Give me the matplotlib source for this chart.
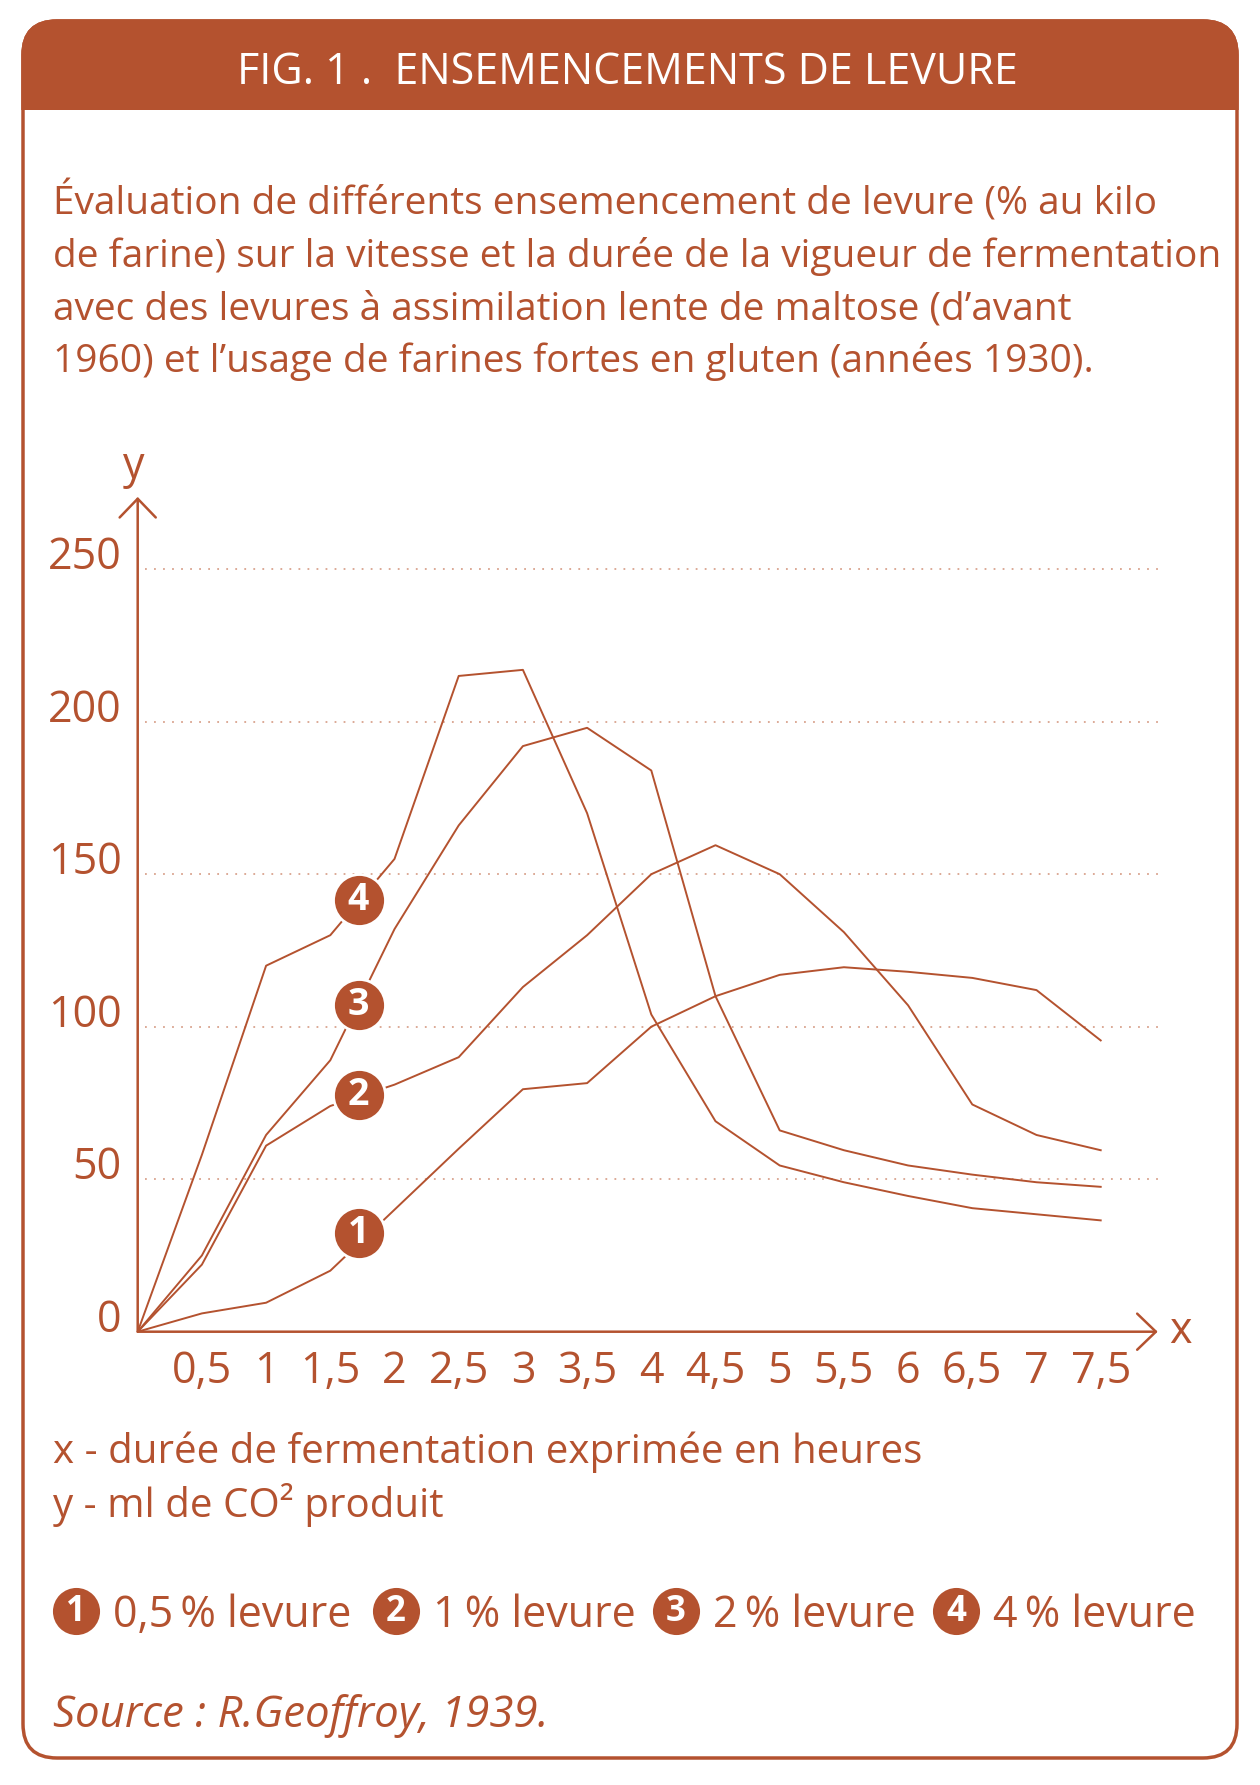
import matplotlib.pyplot as plt
from matplotlib.patches import FancyBboxPatch, Rectangle, ArrowStyle

plt.rcParams['font.family'] = ['Open Sans', 'DejaVu Sans']

# fermentation time (hours)
hours = [0, 0.5, 1, 1.5, 2, 2.5, 3, 3.5, 4, 4.5, 5, 5.5, 6, 6.5, 7, 7.5]
# ml of CO2 for each yeast dose
co2_05 = [0, 6, 9.5, 20, 40, 60, 79.5, 81.5, 100, 110, 117, 119.5, 118, 116, 112, 95.5]
co2_1 = [0, 22, 61, 74, 81, 90, 113, 130, 150, 159.5, 150, 131, 107, 74.5, 64.5, 59.5]
co2_2 = [0, 25, 64.5, 89, 132, 166, 192, 198, 184, 110, 66, 59.5, 54.5, 51.5, 49, 47.5]
co2_4 = [0, 58, 120, 130, 155, 215, 217, 170, 104, 69, 54.5, 49, 44.5, 40.5, 38.5, 36.5]
curves = [co2_05, co2_1, co2_2, co2_4]

curve_numbers = ['1', '2', '3', '4']
badge_hour = 1.72
badge_ml = [32.5, 77.5, 107, 141.5]

x_ticks = hours[1:]
x_labels = ['0,5', '1', '1,5', '2', '2,5', '3', '3,5', '4', '4,5', '5',
            '5,5', '6', '6,5', '7', '7,5']
y_ticks = [0, 50, 100, 150, 200, 250]

title = 'FIG. 1 .  ENSEMENCEMENTS DE LEVURE'
intro = ['Évaluation de différents ensemencement de levure (% au kilo',
         'de farine) sur la vitesse et la durée de la vigueur de fermentation',
         'avec des levures à assimilation lente de maltose (d’avant',
         '1960) et l’usage de farines fortes en gluten (années 1930).']
axis_notes = ['x - durée de fermentation exprimée en heures',
              'y - ml de CO² produit']
legend_labels = ['0,5\u2009% levure', '1\u2009% levure', '2\u2009% levure', '4\u2009% levure']
source = 'Source : R.Geoffroy, 1939.'

RUST = '#b4522f'
GRID = '#d9a38e'
W, H = 1260, 1785

fig = plt.figure(figsize=(12.6, 17.85), dpi=100)

# background layer in pixel units (y downwards)
bg = fig.add_axes([0, 0, 1, 1])
bg.set_xlim(0, W)
bg.set_ylim(H, 0)
bg.axis('off')

frame = FancyBboxPatch((23, 21), 1214, 1737, boxstyle='round,pad=0,rounding_size=34',
                       fc='white', ec=RUST, lw=2.5)
bg.add_patch(frame)
band = FancyBboxPatch((23, 21), 1214, 200, boxstyle='round,pad=0,rounding_size=34',
                      fc=RUST, ec=RUST, lw=2.5)
bg.add_patch(band)
band.set_clip_path(Rectangle((0, 0), W, 110, transform=bg.transData))

bg.text(627, 84, title, color='white', fontsize=31, ha='center', va='baseline')
for i, line in enumerate(intro):
    bg.text(53, 214 + 52.7 * i, line, color=RUST, fontsize=28, va='baseline')
for i, line in enumerate(axis_notes):
    bg.text(53, 1463 + 53.5 * i, line, color=RUST, fontsize=29, va='baseline')

leg_badge_x = [76, 396, 676, 956]
for n, lab, bx in zip(curve_numbers, legend_labels, leg_badge_x):
    bg.scatter(bx, 1611, s=1150, color=RUST, linewidths=0)
    bg.text(bx, 1612, n, color='white', fontsize=25, fontweight='bold',
            ha='center', va='center')
    bg.text(bx + 37, 1627, lab, color=RUST, fontsize=31, va='baseline')

bg.text(53, 1727, source, color=RUST, fontsize=31.5, style='italic', va='baseline')

# chart area: origin at (137.7, 1331.7) px, 128.4 px per hour, 3.05 px per ml
x0, y0, px_h, px_ml = 137.7, 1331.7, 128.4, 3.05
xmax, ymax = 8.2, 290
ax = fig.add_axes([x0 / W, (H - y0) / H, xmax * px_h / W, ymax * px_ml / H])
ax.set_xlim(0, xmax)
ax.set_ylim(0, ymax)
ax.patch.set_alpha(0)
for s in ax.spines.values():
    s.set_visible(False)

ax.hlines(y_ticks[1:], 0.057, 7.97, colors=GRID, linestyles=(0, (1, 4)), lw=1.3, zorder=1)

for vals in curves:
    ax.plot(hours, vals, color=RUST, lw=1.4, zorder=3)

head = ArrowStyle('->', head_length=13.5, head_width=13)
ax.annotate('', xy=(7.944, 0), xytext=(0, 0), annotation_clip=False,
            arrowprops=dict(arrowstyle=head, mutation_scale=1, color=RUST, lw=1.8,
                            shrinkA=0, shrinkB=0))
ax.annotate('', xy=(0, 273.7), xytext=(0, 0), annotation_clip=False,
            arrowprops=dict(arrowstyle=head, mutation_scale=1, color=RUST, lw=1.8,
                            shrinkA=0, shrinkB=0))
ax.text(-0.03, 283.5, 'y', color=RUST, fontsize=31, ha='center', va='center')
ax.text(8.12, 0, 'x', color=RUST, fontsize=31, ha='center', va='center')

ax.set_xticks(x_ticks, x_labels)
ax.set_yticks(y_ticks)
ax.tick_params(length=0, labelcolor=RUST, labelsize=31)
ax.tick_params(axis='x', pad=13)
ax.tick_params(axis='y', pad=11.5)
plt.setp(ax.get_yticklabels(), va='baseline')

ax.scatter([badge_hour] * 4, badge_ml, s=1400, color=RUST, edgecolors='white',
           linewidths=2, zorder=5)
for n, m in zip(curve_numbers, badge_ml):
    ax.text(badge_hour, m, n, color='white', fontsize=27, fontweight='bold',
            ha='center', va='center', zorder=6)

fig.savefig('out.png', dpi=100)
